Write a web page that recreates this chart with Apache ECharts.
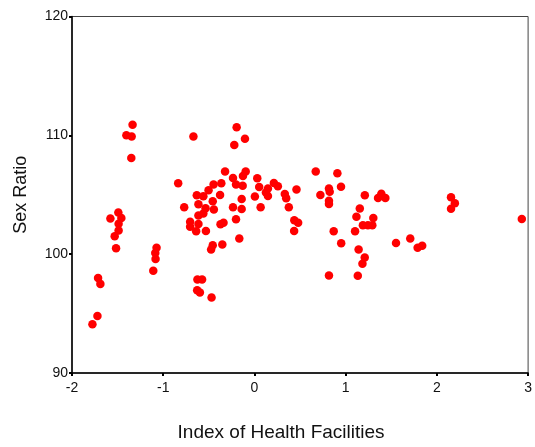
<!DOCTYPE html>
<html><head><meta charset="utf-8">
<script src="https://cdn.jsdelivr.net/npm/echarts@6/dist/echarts.min.js"></script>
<style>html,body{margin:0;padding:0;background:#fff}#c{width:535px;height:447px}</style>
</head><body><div id="c"></div>
<script>
const healthIndex = [
 -1.776,-1.721,-1.714,-1.689,-1.579,-1.492,-1.459,-1.489,-1.489,-1.532,-1.517,
 -1.404,-1.346,-1.336,-1.350,-1.073,-1.087,-1.084,-1.109,-0.836,-0.770,-0.669,
 -0.632,-0.560,-0.503,-0.614,-0.536,-0.614,-0.560,-0.705,-0.705,-0.614,-0.639,-0.532,
 -0.448,-0.363,-0.322,-0.235,-0.126,-0.096,0.031,0.052,-0.202,-0.129,-0.377,-0.457,
 -0.140,0.005,-0.445,-0.235,-0.140,0.068,-0.202,-0.339,-0.372,-0.166,-0.457,-0.475,
 -0.352,-0.625,-0.574,-0.628,-0.598,-0.470,-0.195,-0.104,-0.221,
 0.148,0.126,0.148,
 0.213,0.257,0.461,0.333,0.348,0.377,0.437,0.479,0.435,0.672,0.909,0.949,0.817,0.825,
 0.723,0.817,0.817,0.869,0.951,0.817,1.210,1.391,1.355,1.435,1.155,1.118,1.303,1.189,
 1.244,1.292,1.103,1.142,1.209,1.184,1.133,1.552,1.708,1.789,1.839,2.155,2.197,2.155,2.931
];
const sexRatio = [
 94.1,94.8,98.0,97.5,103.0,103.5,103.05,102.55,102.0,101.5,100.5,
 110.0,109.9,110.9,108.1,100.54,100.1,99.6,98.6,105.96,103.95,109.9,
 104.95,104.87,105.37,104.2,103.87,103.25,103.43,102.72,102.3,102.54,101.92,101.94,
 105.86,105.97,106.96,106.4,106.57,106.96,106.39,105.65,105.86,105.76,104.98,104.45,
 104.64,104.85,103.75,103.95,103.81,103.95,102.93,102.64,102.51,101.32,100.75,100.39,
 100.81,97.87,97.87,96.97,96.78,96.36,110.69,109.72,109.19,
 105.52,105.19,104.9,
 105.98,105.71,105.44,105.06,104.7,103.95,102.85,102.64,101.94,106.96,106.8,105.67,105.52,105.26,
 104.98,104.5,104.23,101.92,100.92,98.2,104.96,105.09,104.73,104.73,103.85,103.14,103.04,102.44,
 102.44,102.44,101.92,100.4,99.72,99.19,98.18,100.94,101.32,100.53,100.71,104.79,104.28,103.83,102.95
];
const xTicks = [-2,-1,0,1,2,3];
const yTicks = [90,100,110,120];

const pts = healthIndex.map((v,i)=>[v, sexRatio[i]]);
const font = 'Liberation Sans';
const chart = echarts.init(document.getElementById('c'), null, {renderer:'canvas'});
chart.setOption({
  animation:false,
  grid:{left:72,right:4,top:16.5,bottom:72,show:true,borderColor:'#444',borderWidth:1},
  xAxis:{type:'value',min:xTicks[0],max:xTicks[xTicks.length-1],interval:1,
    name:'Index of Health Facilities',nameLocation:'middle',nameGap:50,
    nameTextStyle:{fontFamily:font,fontSize:19,color:'#111',padding:[0,38,0,0]},
    axisLine:{onZero:false,lineStyle:{color:'#000',width:1.5}},
    axisTick:{show:true,length:3,lineStyle:{color:'#000',width:2}},
    axisLabel:{fontFamily:font,fontSize:14,color:'#111',margin:8},
    splitLine:{show:false}},
  yAxis:{type:'value',min:yTicks[0],max:yTicks[yTicks.length-1],interval:10,
    name:'Sex Ratio',nameLocation:'middle',nameGap:42,
    nameTextStyle:{fontFamily:font,fontSize:18,color:'#111'},
    axisLine:{onZero:false,lineStyle:{color:'#000',width:1.5}},
    axisTick:{show:true,length:3,lineStyle:{color:'#000',width:2}},
    axisLabel:{fontFamily:font,fontSize:14,color:'#111',margin:4},
    splitLine:{show:false}},
  series:[{type:'scatter',data:pts,symbol:'circle',symbolSize:8.5,
    itemStyle:{color:'#ff0000',opacity:1}}]
});
</script></body></html>
